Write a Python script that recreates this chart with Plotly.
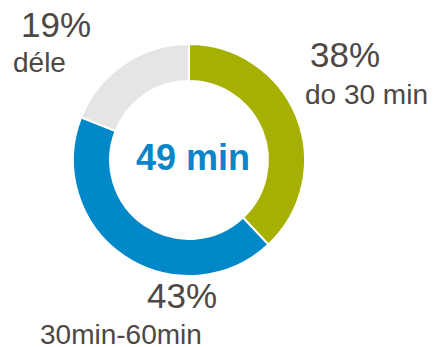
import plotly.graph_objects as go

categories = ["do 30 min", "30min-60min", "déle"]
values = [38, 43, 19]
pct_labels = ["38%", "43%", "19%"]
colors = ["#a5b000", "#0088c8", "#e6e5e4"]
center_text = "49 min"

W, H = 436, 347
OFF = 8  # page body margin offset
text_color = "#4e4844"

def px(x, y):
    return (x - OFF) / W, 1 - (y - OFF) / H

cx0, cy0, R = 189, 160, 116
x0, y1 = px(cx0 - R, cy0 - R)
x1, y0 = px(cx0 + R, cy0 + R)

fig = go.Figure(go.Pie(
    labels=categories,
    values=values,
    hole=0.68,
    sort=False,
    direction="clockwise",
    rotation=0,
    marker=dict(colors=colors, line=dict(color="white", width=2)),
    textinfo="none",
    hoverinfo="label+percent",
    showlegend=False,
    domain=dict(x=[x0, x1], y=[y0, y1]),
))

annots = [
    (pct_labels[0], 345, 55, 35),
    (categories[0], 366, 95, 28),
    (pct_labels[1], 182, 295, 35),
    (categories[1], 121, 334, 28),
    (pct_labels[2], 56, 25, 35),
    (categories[2], 39, 62, 28),
]
annotations = []
for txt, x, y, s in annots:
    ax, ay = px(x, y)
    annotations.append(dict(text=txt, x=ax, y=ay, xref="paper", yref="paper",
                            xanchor="center", yanchor="middle", showarrow=False,
                            font=dict(family="Arial, Liberation Sans", size=s, color=text_color)))
cx, cy = px(193, 157)
annotations.append(dict(text="<b>" + center_text + "</b>", x=cx, y=cy, xref="paper", yref="paper",
                        xanchor="center", yanchor="middle", showarrow=False,
                        font=dict(family="Arial, Liberation Sans", size=36, color="#0a86c8")))

fig.update_layout(
    width=W, height=H,
    margin=dict(l=0, r=0, t=0, b=0),
    paper_bgcolor="white", plot_bgcolor="white",
    annotations=annotations,
)
fig.write_html("out.html")
